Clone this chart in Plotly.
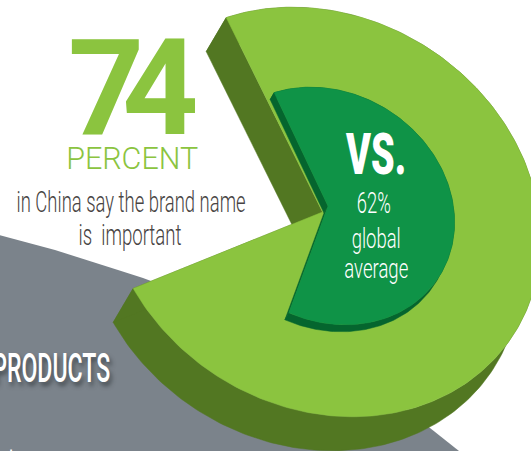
import json
import numpy as np
import plotly.graph_objects as go

# Survey shares drawn as nested sectors
china_share = 74
global_share = 62
big_number = "74"
unit_label = "PERCENT"
china_lines = ["in China say the brand name", "is  important"]
vs_label = "VS."
global_lines = ["62%", "global", "average"]
band_title = "PRODUCTS"
band_footer = "ets"

LIGHT = "#8bc43f"
LIGHT_WALL = "#527722"
INNER = "#0f9347"
INNER_WALL = "#05652e"
GREY = "#7b838b"
INK = "#484443"
WHITE = "#ffffff"

# Projection of the discs: a tilted ellipse with its long axis toward lower right
AXIS_A = np.array([0.539, -0.842])
AXIS_B = np.array([0.842, 0.539])
R_A, R_B = 195.0, 227.0


def sector_rim(share, apex, scale, gap_start):
    sweep = np.radians(np.linspace(gap_start, gap_start + share * 3.6, 241))
    return (np.outer(np.cos(sweep) * R_A * scale, AXIS_A)
            + np.outer(np.sin(sweep) * R_B * scale, AXIS_B)) + apex


def area(xs, ys, colour):
    return go.Scatter(x=xs, y=ys, mode="lines", fill="toself", fillcolor=colour,
                      line=dict(color=colour, width=0.5), hoverinfo="skip", showlegend=False)


def add_disc(fig, share, apex, scale, gap_start, offset, wall, top):
    rim = sector_rim(share, apex, scale, gap_start)
    shifted_rim = rim + offset
    shifted_apex = apex + offset
    # Side wall: band under the rim plus the two cut faces
    band = np.vstack([rim, shifted_rim[::-1], rim[:1]])
    fig.add_trace(area(band[:, 0], band[:, 1], wall))
    for corner, shifted in [(rim[0], shifted_rim[0]), (rim[-1], shifted_rim[-1])]:
        face = np.array([apex, corner, shifted, shifted_apex, apex])
        fig.add_trace(area(face[:, 0], face[:, 1], wall))
    # Top surface
    outline = np.vstack([[apex], rim, [apex]])
    fig.add_trace(area(outline[:, 0], outline[:, 1], top))


fig = go.Figure()

# Grey band behind the discs
band_x = [-5, 55, 118, 143, 250, 350, 430, 459, 480, -5, -5]
band_y = [234, 250, 270, 278, 318, 368, 428, 451, 470, 470, 234]
fig.add_trace(go.Scatter(x=band_x, y=band_y, mode="lines", fill="toself", fillcolor=GREY,
                         line=dict(color=GREY, width=0), hoverinfo="skip", showlegend=False))

add_disc(fig, china_share, np.array([322.5, 212.0]), 1.0, -55.0, np.array([-20.0, 34.0]), LIGHT_WALL, LIGHT)
add_disc(fig, global_share, np.array([328.0, 206.0]), 0.58, -54.0, np.array([-4.0, 7.0]), INNER_WALL, INNER)

# Rendered width of each label, in pixels; the type is condensed to fit
text_widths = {}
# Tracking for the tight headline numerals, in pixels
text_tracking = {big_number: -22}


def label(text, x, y, size, color, width=None, family="Roboto", weight=None, shadow=None, yshift=0):
    font = dict(size=size, color=color, family=family)
    if weight:
        font["weight"] = weight
    if shadow:
        font["shadow"] = shadow
    if width:
        text_widths[text] = width
    fig.add_annotation(x=x, y=y, text=text, showarrow=False, font=font, yshift=yshift,
                       xanchor="center", yanchor="middle", xref="x", yref="y")


label(big_number, 122, 88, 133, LIGHT, weight=700)
label(unit_label, 132, 158, 31, LIGHT, 132, weight=300)
label(china_lines[0], 131, 201, 30, INK, 229, weight=300)
label(china_lines[1], 130, 234, 30, INK, 103, weight=300)
label(vs_label, 375, 154, 58, WHITE, 60, weight=900)
label(global_lines[0], 374, 203, 29, WHITE, 34, weight=300)
label(global_lines[1], 376, 238, 28, WHITE, 49, weight=300)
label(global_lines[2], 376, 268, 28, WHITE, 64, weight=300)
label(band_title, 51, 368, 40, WHITE, 118, weight=500,
      shadow="4px 4px 6px rgba(50,55,60,0.7)")
# The last line runs off the foot of the page, so only its upper edge shows
label(band_footer, 11, 449, 18, WHITE, 24, yshift=-6)

fig.update_layout(
    width=531, height=451, autosize=False,
    margin=dict(l=0, r=0, t=0, b=0),
    paper_bgcolor=WHITE, plot_bgcolor=WHITE,
    xaxis=dict(range=[0, 531], visible=False, fixedrange=True),
    yaxis=dict(range=[451, 0], visible=False, fixedrange=True),
    showlegend=False,
)

fit_text = """
var widths = %s, tracking = %s;
document.querySelectorAll('.annotation-text').forEach(function (t) {
  var key = t.textContent;
  if (widths[key]) {
    t.setAttribute('textLength', widths[key]);
    t.setAttribute('lengthAdjust', 'spacingAndGlyphs');
  }
  if (tracking[key]) {
    t.style.letterSpacing = tracking[key] + 'px';
  }
});
""" % (json.dumps(text_widths), json.dumps(text_tracking))

fig.write_html("out.html", config=dict(displayModeBar=False), post_script=fit_text)
